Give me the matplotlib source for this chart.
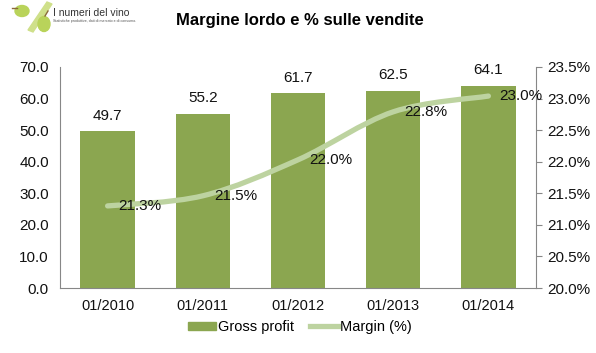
import numpy as np
import matplotlib
matplotlib.use('Agg')
import matplotlib.pyplot as plt
from matplotlib.path import Path
from matplotlib.patches import PathPatch, Ellipse, Polygon
from matplotlib.lines import Line2D
from matplotlib.patches import Patch

# data
periods = ['01/2010', '01/2011', '01/2012', '01/2013', '01/2014']
gross_profit = [49.7, 55.2, 61.7, 62.5, 64.1]
margin_pct = [21.30, 21.46, 22.03, 22.79, 23.04]
margin_labels = ['21.3%', '21.5%', '22.0%', '22.8%', '23.0%']

bar_color = '#8ba650'
line_color = '#bdd3a0'
axis_color = '#878787'

plt.rcParams['font.family'] = ['Liberation Sans', 'DejaVu Sans']

fig = plt.figure(figsize=(5.96, 3.53), dpi=100)
ax = fig.add_axes([60 / 596, 1 - 288 / 353, 476 / 596, 221 / 353])
ax2 = ax.twinx()

x = np.arange(len(periods))
ax.bar(x, gross_profit, width=0.57, color=bar_color, zorder=2)
for xi, v in zip(x, gross_profit):
    ax.annotate('%.1f' % v, (xi, v), xytext=(0, 6), textcoords='offset points',
                ha='center', va='bottom', fontsize=11, color='#111111')

ax.set_xlim(-0.5, len(periods) - 0.5)
ax.set_ylim(0, 70)
ax.set_yticks(np.arange(0, 71, 10))
ax.set_yticklabels(['%.1f' % t for t in np.arange(0, 71, 10)], fontsize=11)
ax.set_xticks(x)
ax.set_xticklabels(periods, fontsize=10.5)
ax.tick_params(axis='both', length=0, pad=8, colors='#111111')

# smooth line like the spreadsheet one (Catmull-Rom -> Bezier through the points)
pts = list(zip(x.astype(float), margin_pct))
verts = [pts[0]]
codes = [Path.MOVETO]
for i in range(len(pts) - 1):
    p0 = pts[i - 1] if i > 0 else pts[i]
    p1 = pts[i]
    p2 = pts[i + 1]
    p3 = pts[i + 2] if i + 2 < len(pts) else pts[i + 1]
    c1 = (p1[0] + (p2[0] - p0[0]) / 6, p1[1] + (p2[1] - p0[1]) / 6)
    c2 = (p2[0] - (p3[0] - p1[0]) / 6, p2[1] - (p3[1] - p1[1]) / 6)
    verts += [c1, c2, p2]
    codes += [Path.CURVE4] * 3
ax2.add_patch(PathPatch(Path(verts, codes), facecolor='none', edgecolor=line_color,
                        lw=3.8, capstyle='round', joinstyle='round', zorder=3))
for xi, v, lab in zip(x, margin_pct, margin_labels):
    ax2.annotate(lab, (xi, v), xytext=(8, 0), textcoords='offset points',
                 ha='left', va='center', fontsize=11, color='#111111', zorder=4)

ax2.set_ylim(20, 23.5)
yt = np.arange(20, 23.51, 0.5)
ax2.set_yticks(yt)
ax2.set_yticklabels(['%.1f%%' % t for t in yt], fontsize=11)
ax2.tick_params(axis='y', length=4, color=axis_color, colors='#111111', pad=4)
for a in (ax, ax2):
    a.spines['top'].set_visible(False)
ax.spines['right'].set_visible(False)
ax2.spines['left'].set_visible(False)
ax2.spines['bottom'].set_visible(False)
ax.spines['left'].set_color(axis_color)
ax.spines['bottom'].set_color(axis_color)
ax2.spines['right'].set_color(axis_color)

fig.text(0.503, 1 - 20 / 353, 'Margine lordo e % sulle vendite', ha='center', va='center',
         fontsize=12, fontweight='bold', family=['Liberation Sans Narrow', 'Liberation Sans'])

handles = [Patch(color=bar_color), Line2D([0], [0], color=line_color, lw=3.8)]
fig.legend(handles, ['Gross profit', 'Margin (%)'], loc='center', bbox_to_anchor=(0.503, 1 - 327 / 353),
           ncol=2, frameon=False, handlelength=1.9, handleheight=0.45, handletextpad=0.15,
           columnspacing=1.1, prop={'family': ['Liberation Sans Narrow', 'Liberation Sans'], 'size': 10.5})

# logo in the corner
logo = fig.add_axes([0, 1 - 36 / 353, 130 / 596, 36 / 353])
logo.set_xlim(0, 130)
logo.set_ylim(36, 0)
logo.axis('off')
logo.add_patch(Polygon([(28, 30), (33, 32), (52, 4), (47, 2)], closed=True, color='#cfe08a'))
logo.add_patch(Ellipse((22, 11), 14, 11, color='#b9d35a'))
logo.add_patch(Ellipse((44, 24), 12, 15, color='#b9d35a'))
logo.plot([12, 17], [8, 8], color='#8a6a3a', lw=1)
logo.plot([45, 48], [16, 11], color='#8a6a3a', lw=1)
logo.text(53, 13, 'I numeri del vino', fontsize=7.5, color='#333333', va='center', ha='left')
logo.text(53, 21, 'Statistiche produttive, dati di mercato e di consumo.', fontsize=2.6,
          color='#555555', va='center', ha='left')

fig.savefig('out.png', dpi=100)
